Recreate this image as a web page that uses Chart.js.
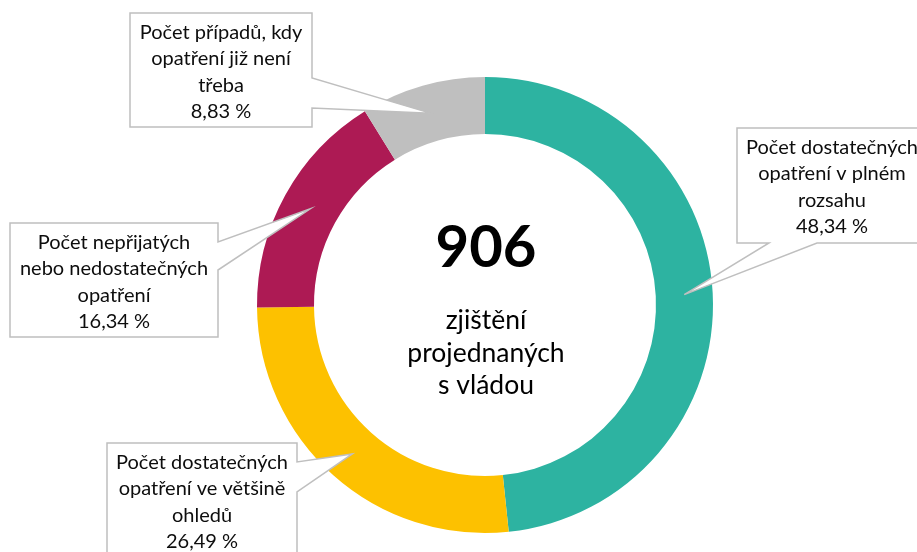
<!DOCTYPE html>
<html lang="cs">
<head>
<meta charset="utf-8">
<script src="https://cdn.jsdelivr.net/npm/chart.js@4"></script>
<style>
    html, body { margin: 0; padding: 0; background: #fff; }
    #wrap { width: 917px; height: 552px; position: relative; }
</style>
</head>
<body>
<div id="wrap"><canvas id="donut" width="917" height="552"></canvas></div>
<script>
// Chart data
const categories = [
    ["Počet dostatečných", "opatření v plném", "rozsahu"],
    ["Počet dostatečných", "opatření ve většině", "ohledů"],
    ["Počet nepřijatých", "nebo nedostatečných", "opatření"],
    ["Počet případů, kdy", "opatření již není", "třeba"]
];
const shares = [48.34, 26.49, 16.34, 8.83];
const colors = ["#2db3a1", "#fdc100", "#ad1a54", "#bfbfbf"];
const totalFindings = 906;
const centerLines = ["zjištění", "projednaných", "s vládou"];

// Callout boxes (layout only): box rect + where the pointer leaves the box
const callouts = [
    { x: 737, y: 128, w: 190, h: 115, side: "bottom", a: 769, b: 817 },
    { x: 107, y: 443, w: 190, h: 120, side: "right", a: 462, b: 492 },
    { x: 10, y: 223, w: 208, h: 114, side: "right", a: 242, b: 270 },
    { x: 130, y: 13, w: 182, h: 114, side: "right", a: 78, b: 108 }
];

const FONT = "Lato, 'Open Sans', sans-serif";

function formatPct(v) {
    return v.toFixed(2).replace(".", ",") + " %";
}

// Plugin drawing the centre text and the callouts
const calloutPlugin = {
    id: "callouts",
    afterDraw(chart) {
        const ctx = chart.ctx;
        const arcs = chart.getDatasetMeta(0).data;
        ctx.save();

        // centre label
        const cx = arcs[0].x, cy = arcs[0].y;
        ctx.fillStyle = "#000";
        ctx.textAlign = "center";
        ctx.textBaseline = "alphabetic";
        ctx.font = "bold 58px " + FONT;
        ctx.fillText(String(totalFindings), cx + 1, cy - 38);
        ctx.font = "26.5px " + FONT;
        centerLines.forEach((line, i) => {
            ctx.fillText(line, cx + 1, cy + 24 + i * 32.5);
        });

        // callouts
        callouts.forEach((c, i) => {
            const tip = arcs[i].tooltipPosition();
            const r = c.x + c.w, btm = c.y + c.h;
            ctx.beginPath();
            ctx.moveTo(c.x, c.y);
            ctx.lineTo(r, c.y);
            if (c.side === "right") {
                ctx.lineTo(r, c.a);
                ctx.lineTo(tip.x, tip.y);
                ctx.lineTo(r, c.b);
            }
            ctx.lineTo(r, btm);
            if (c.side === "bottom") {
                ctx.lineTo(c.b, btm);
                ctx.lineTo(tip.x, tip.y);
                ctx.lineTo(c.a, btm);
            }
            ctx.lineTo(c.x, btm);
            ctx.closePath();
            ctx.fillStyle = "#fff";
            ctx.fill();
            ctx.strokeStyle = "#bfbfbf";
            ctx.lineWidth = 1.5;
            ctx.stroke();

            const lines = categories[i].concat([formatPct(shares[i])]);
            ctx.fillStyle = "#0d0d0d";
            ctx.font = "20px " + FONT;
            lines.forEach((line, j) => {
                ctx.fillText(line, c.x + c.w / 2, c.y + 26 + j * 26.3);
            });
        });
        ctx.restore();
    }
};

document.addEventListener("DOMContentLoaded", () => {
    const ctx = document.getElementById("donut").getContext("2d");
    new Chart(ctx, {
        type: "doughnut",
        data: {
            labels: categories.map(l => l.join(" ")),
            datasets: [{
                data: shares,
                backgroundColor: colors,
                borderWidth: 0
            }]
        },
        options: {
            responsive: false,
            animation: false,
            cutout: "75%",
            layout: {
                padding: { left: 257, right: 204, top: 77, bottom: 19 }
            },
            plugins: {
                legend: { display: false },
                tooltip: { enabled: false }
            }
        },
        plugins: [calloutPlugin]
    });
});
</script>
</body>
</html>
